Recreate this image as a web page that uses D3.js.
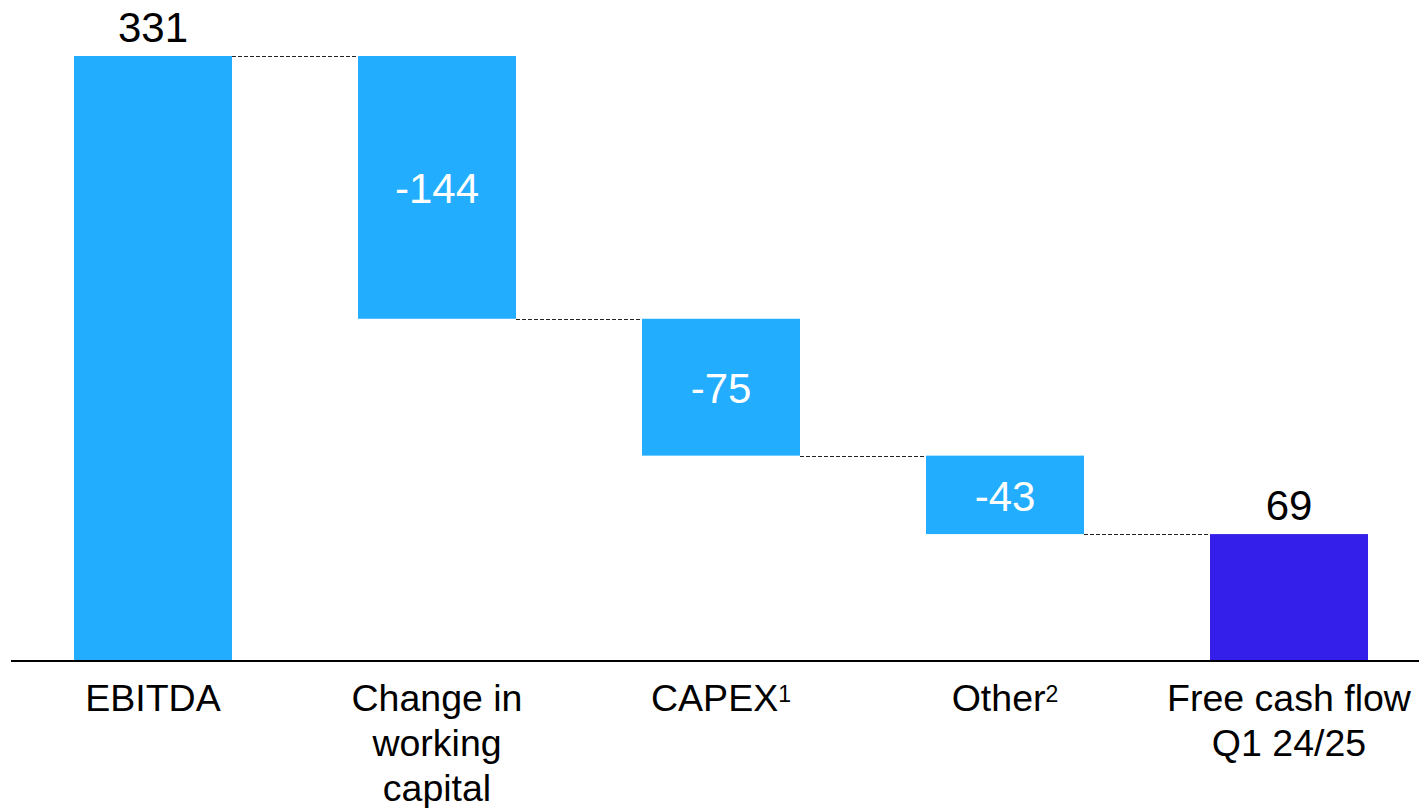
<!DOCTYPE html>
<html><head><meta charset="utf-8">
<script src="https://cdn.jsdelivr.net/npm/d3@7"></script>
<style>
html,body{margin:0;padding:0;background:#fff;}
svg{display:block;font-family:"Liberation Sans",Arial,sans-serif;}
</style></head>
<body>
<svg id="chart" width="1419" height="808"></svg>
<script>
const categories = ["EBITDA", "Change in working capital", "CAPEX", "Other", "Free cash flow Q1 24/25"];
const labelLines = [["EBITDA"], ["Change in", "working", "capital"], ["CAPEX"], ["Other"], ["Free cash flow", "Q1 24/25"]];
const superscripts = ["", "", "1", "2", ""];
const values = [331, -144, -75, -43, 69];
const kinds = ["total", "delta", "delta", "delta", "total"];

const svg = d3.select("#chart");
const x = d3.scaleBand().domain(categories).range([11, 1431]).paddingInner(0.4437).paddingOuter(0.2218);
const y = d3.scaleLinear().domain([0, 331]).range([660, 56]);

let running = 0;
const segs = categories.map((c, i) => {
  let y0, y1;
  if (kinds[i] === "total") { y0 = 0; y1 = values[i]; running = values[i]; }
  else { y0 = running; y1 = running + values[i]; running = y1; }
  return {c, i, v: values[i], lo: Math.min(y0, y1), hi: Math.max(y0, y1), end: y1, kind: kinds[i]};
});

const colorLight = "#22adff", colorDark = "#341ee9";

for (let i = 0; i < segs.length - 1; i++) {
  const lvl = segs[i].end;
  svg.append("line")
    .attr("x1", x(segs[i].c) + x.bandwidth()).attr("x2", x(segs[i+1].c))
    .attr("y1", Math.round(y(lvl)) + 0.5).attr("y2", Math.round(y(lvl)) + 0.5)
    .attr("stroke", "#222").attr("stroke-width", 1).attr("stroke-dasharray", "4,2");
}

svg.selectAll("rect.bar").data(segs).join("rect").attr("class", "bar")
  .attr("x", d => x(d.c)).attr("width", x.bandwidth())
  .attr("y", d => y(d.hi)).attr("height", d => y(d.lo) - y(d.hi))
  .attr("fill", (d, i) => i === segs.length - 1 ? colorDark : colorLight);

svg.append("line").attr("x1", 11).attr("x2", 1419).attr("y1", y(0) + 1).attr("y2", y(0) + 1)
  .attr("stroke", "#000").attr("stroke-width", 2);

svg.selectAll("text.val").data(segs).join("text").attr("class", "val")
  .attr("x", d => x(d.c) + x.bandwidth() / 2)
  .attr("y", d => d.kind === "total" ? y(d.hi) - 14 : (y(d.hi) + y(d.lo)) / 2 + 16)
  .attr("text-anchor", "middle").attr("font-size", 42)
  .attr("fill", d => d.kind === "total" ? "#000" : "#fff")
  .text(d => d.v);

segs.forEach((d, i) => {
  const t = svg.append("text").attr("text-anchor", "middle").attr("font-size", 37.5).attr("fill", "#000");
  const cx = x(d.c) + x.bandwidth() / 2;
  if (superscripts[i]) {
    const ts = t.append("tspan").attr("x", cx).attr("y", 711);
    ts.append("tspan").text(labelLines[i][0]);
    ts.append("tspan").attr("font-size", 23).attr("dy", -9).text(superscripts[i]);
  } else {
    labelLines[i].forEach((ln, j) => {
      t.append("tspan").attr("x", cx).attr("y", 711 + j * 45).text(ln);
    });
  }
});
</script>
</body></html>
